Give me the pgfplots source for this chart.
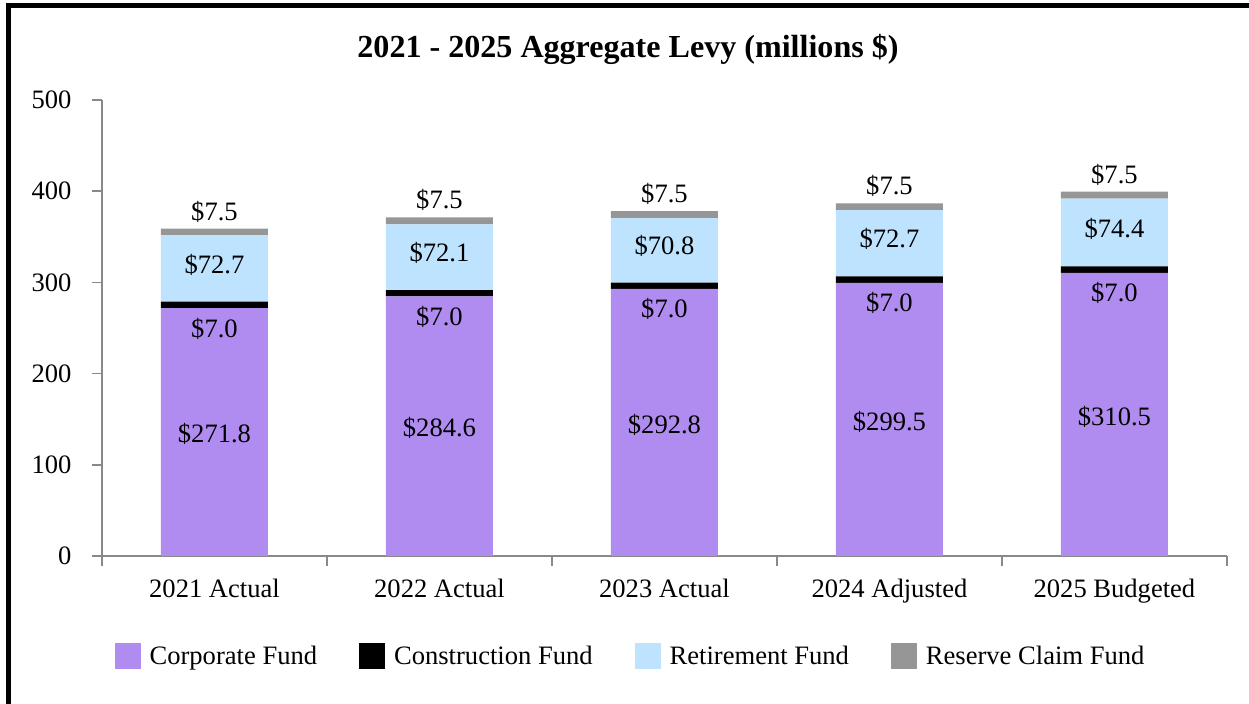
\documentclass[border=0pt]{standalone}
\usepackage{fontspec}
\setmainfont{Liberation Serif}
\usepackage{pgfplots}
\pgfplotsset{compat=1.18}
\definecolor{corp}{RGB}{177,140,240}
\definecolor{retire}{RGB}{189,227,255}
\definecolor{reserve}{RGB}{150,150,150}
\definecolor{axgray}{RGB}{137,137,137}
\newcommand{\lab}{\fontsize{26.67}{32}\selectfont}
\begin{document}
\begin{tikzpicture}[x=1bp,y=1bp]
\path[use as bounding box] (0,0) rectangle (1249,704);
\draw[line width=5bp] (8.5,0) -- (8.5,698.5) -- (1249,698.5);
\node[font=\fontsize{32.2}{40}\selectfont\bfseries] at (628,655) {2021 - 2025 Aggregate Levy (millions \$)};
\begin{axis}[
 at={(102bp,148bp)}, anchor=south west,
 scale only axis, width=1125bp, height=456bp,
 xmin=-0.5, xmax=4.5, ymin=0, ymax=500,
 ybar stacked, bar width=107bp,
 axis x line*=bottom, axis y line*=left,
 axis line style={axgray, line width=1.5bp, -},
 ytick={0,100,...,500},
 xtick={-0.5,0.5,...,4.5}, xticklabels={},
 extra x ticks={0,1,2,3,4},
 extra x tick labels={2021 Actual,2022 Actual,2023 Actual,2024 Adjusted,2025 Budgeted},
 extra x tick style={major tick length=0pt, xticklabel style={yshift=-20bp}},
 tick align=outside, major tick length=10bp,
 tick style={axgray, line width=1.5bp},
 ticklabel style={font=\lab},
 yticklabel style={xshift=-17bp},
 /pgf/number format/assume math mode=true,
 nodes near coords={\$\pgfmathprintnumber[fixed,fixed zerofill,precision=1]{\pgfplotspointmeta}},
 nodes near coords style={font=\lab, text=black},
 point meta=explicit,
 legend style={at={(axis description cs:0.4698,-0.219)}, anchor=center, draw=none, font=\lab,
   legend columns=4,
   /tikz/every odd column/.append style={column sep=7bp},
   /tikz/every even column/.append style={column sep=40bp}},
 legend image code/.code={\fill[#1] (0bp,-13bp) rectangle (26bp,13bp);},
]
\addplot[fill=corp, draw=none,
  every node near coord/.append style={anchor=center, yshift=-2bp}]
  coordinates {(0,271.8) [271.8] (1,284.6) [284.6] (2,292.8) [292.8] (3,299.5) [299.5] (4,310.5) [310.5]};
\addlegendentry{Corporate Fund}
\addplot[fill=black, draw=none,
  every node near coord/.append style={anchor=center, yshift=-23.5bp}]
  coordinates {(0,7.0) [7.0] (1,7.0) [7.0] (2,7.0) [7.0] (3,7.0) [7.0] (4,7.0) [7.0]};
\addlegendentry{Construction Fund}
\addplot[fill=retire, draw=none,
  every node near coord/.append style={anchor=center, yshift=4bp}]
  coordinates {(0,72.7) [72.7] (1,72.1) [72.1] (2,70.8) [70.8] (3,72.7) [72.7] (4,74.4) [74.4]};
\addlegendentry{Retirement Fund}
\addplot[fill=reserve, draw=none,
  every node near coord/.append style={anchor=base, yshift=12bp}]
  coordinates {(0,7.5) [7.5] (1,7.5) [7.5] (2,7.5) [7.5] (3,7.5) [7.5] (4,7.5) [7.5]};
\addlegendentry{Reserve Claim Fund}
\end{axis}
\end{tikzpicture}
\end{document}
